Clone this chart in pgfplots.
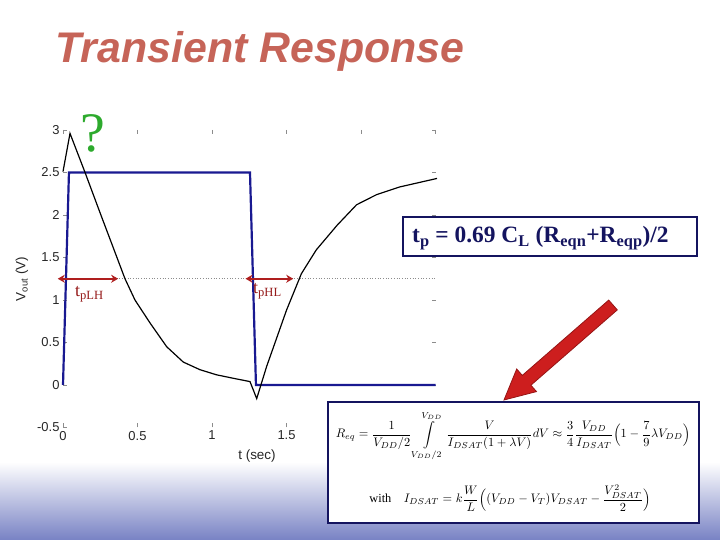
\documentclass[border=0pt]{standalone}
\usepackage{amsmath}
\usepackage{fontspec}
\setmainfont{Liberation Sans}
\newfontfamily\seriffont{Liberation Serif}
\usepackage{pgfplots}
\pgfplotsset{compat=1.18}
\usetikzlibrary{arrows.meta}

\definecolor{vin}{RGB}{25,25,145}
\definecolor{navy}{RGB}{20,20,95}
\definecolor{tdred}{RGB}{175,30,30}
\definecolor{titlered}{RGB}{198,100,88}
\definecolor{qgreen}{RGB}{45,170,45}
\definecolor{slideblue}{RGB}{120,130,196}

\begin{document}
\begin{tikzpicture}[x=1bp,y=1bp]
% slide background, 720 x 540
\fill[white] (0,0) rectangle (720,540);
\shade[top color=white, bottom color=slideblue] (0,0) rectangle (720,78);
\useasboundingbox (0,0) rectangle (720,540);

% title
\node[anchor=base west, text=titlered, font=\fontsize{43}{50}\selectfont\bfseries\itshape]
  at (52,477) {Transient Response};

\begin{axis}[
    at={(63bp,112.5bp)}, anchor=south west,
    scale only axis,
    width=372.5bp, height=297.5bp,
    xmin=0, xmax=2.5, ymin=-0.5, ymax=3,
    xtick={0,0.5,1,1.5,2,2.5},
    xticklabels={0,0.5,1,1.5,{},{}},
    ytick={-0.5,0,0.5,1,1.5,2,2.5,3},
    axis line style={draw=none},
    tick align=inside,
    major tick length=4bp,
    tick style={black!45, line width=0.6pt},
    tick label style={font=\fontsize{13}{15}\selectfont, text=black!85},
    /pgf/number format/assume math mode=true,
    clip=false,
]
% 50% level
\addplot[black!45, dotted, line width=0.7pt] coordinates {(0,1.25) (2.5,1.25)};
% input
\addplot[vin, line width=2.2pt] coordinates {
    (0,0) (0.04,2.5) (1.255,2.5) (1.295,0) (2.5,0)
};
% output
\addplot[black, line width=1.2pt] coordinates {
    (0,2.51) (0.047,2.96) (0.148,2.50) (0.25,2.02) (0.36,1.51)
    (0.416,1.25) (0.483,1.00) (0.584,0.73) (0.696,0.45) (0.807,0.27)
    (0.919,0.18) (1.03,0.12) (1.14,0.08) (1.255,0.04) (1.30,-0.16)
    (1.367,0.22) (1.50,0.88) (1.60,1.31) (1.70,1.59) (1.84,1.88)
    (1.97,2.12) (2.105,2.24) (2.26,2.33) (2.51,2.43)
};
% propagation delay arrows
\draw[tdred, line width=2.2pt, {Stealth[length=7bp,width=8bp]}-{Stealth[length=7bp,width=8bp]}]
  (axis cs:-0.035,1.25) -- (axis cs:0.37,1.25);
\draw[tdred, line width=2.2pt, {Stealth[length=7bp,width=8bp]}-{Stealth[length=7bp,width=8bp]}]
  (axis cs:1.225,1.25) -- (axis cs:1.545,1.25);
\end{axis}

% axis labels
\node[rotate=90, font=\fontsize{13.5}{15}\selectfont, text=black!85] at (22,261)
  {V\textsubscript{out} (V)};
\node[font=\fontsize{13.5}{15}\selectfont, text=black!85] at (257,84) {t (sec)};

% annotations
\node[anchor=center, text=qgreen, font=\seriffont\fontsize{56}{60}\selectfont] at (93,407) {?};
\node[anchor=base west, inner sep=0pt, text=tdred!85!black, font=\seriffont\fontsize{18}{20}\selectfont]
  at (75,243) {t\textsubscript{pLH}};
\node[anchor=base west, inner sep=0pt, text=tdred!85!black, font=\seriffont\fontsize{18}{20}\selectfont]
  at (253,246) {t\textsubscript{pHL}};

% delay formula box
\draw[navy, line width=2.2pt, fill=white] (403,284) rectangle (697,323);
\node[anchor=base west, inner sep=0pt, text=navy, font=\seriffont\bfseries\fontsize{23.5}{26}\selectfont]
  at (412,297) {t\textsubscript{p} = 0.69 C\textsubscript{L} (R\textsubscript{eqn}+R\textsubscript{eqp})/2};

% big red arrow
\filldraw[fill={rgb,255:red,205;green,30;blue,30}, draw={rgb,255:red,150;green,20;blue,20}, line width=0.8pt]
  (617.3,230.1) -- (530.9,154.8) -- (536.5,148.4) -- (504,140) -- (516.7,171.0)
  -- (522.3,164.6) -- (608.7,239.9) -- cycle;

% equivalent resistance box
\draw[navy, line width=2.2pt, fill=white] (328,17) rectangle (699,138);
\node[inner sep=0pt] at (513,104) {\scalebox{1.24}{$\displaystyle R_{eq} = \frac{1}{V_{DD}/2}\int\limits_{V_{DD}/2}^{V_{DD}}
  \frac{V}{I_{DSAT}(1+\lambda V)}dV \approx \frac{3}{4}\frac{V_{DD}}{I_{DSAT}}
  \Bigl(1-\frac{7}{9}\lambda V_{DD}\Bigr)$}};
\node[inner sep=0pt] at (510,42) {\scalebox{1.24}{{\seriffont with}\quad $\displaystyle I_{DSAT} = k\frac{W}{L}
  \Bigl((V_{DD}-V_T)V_{DSAT}-\frac{V_{DSAT}^2}{2}\Bigr)$}};
\end{tikzpicture}
\end{document}
